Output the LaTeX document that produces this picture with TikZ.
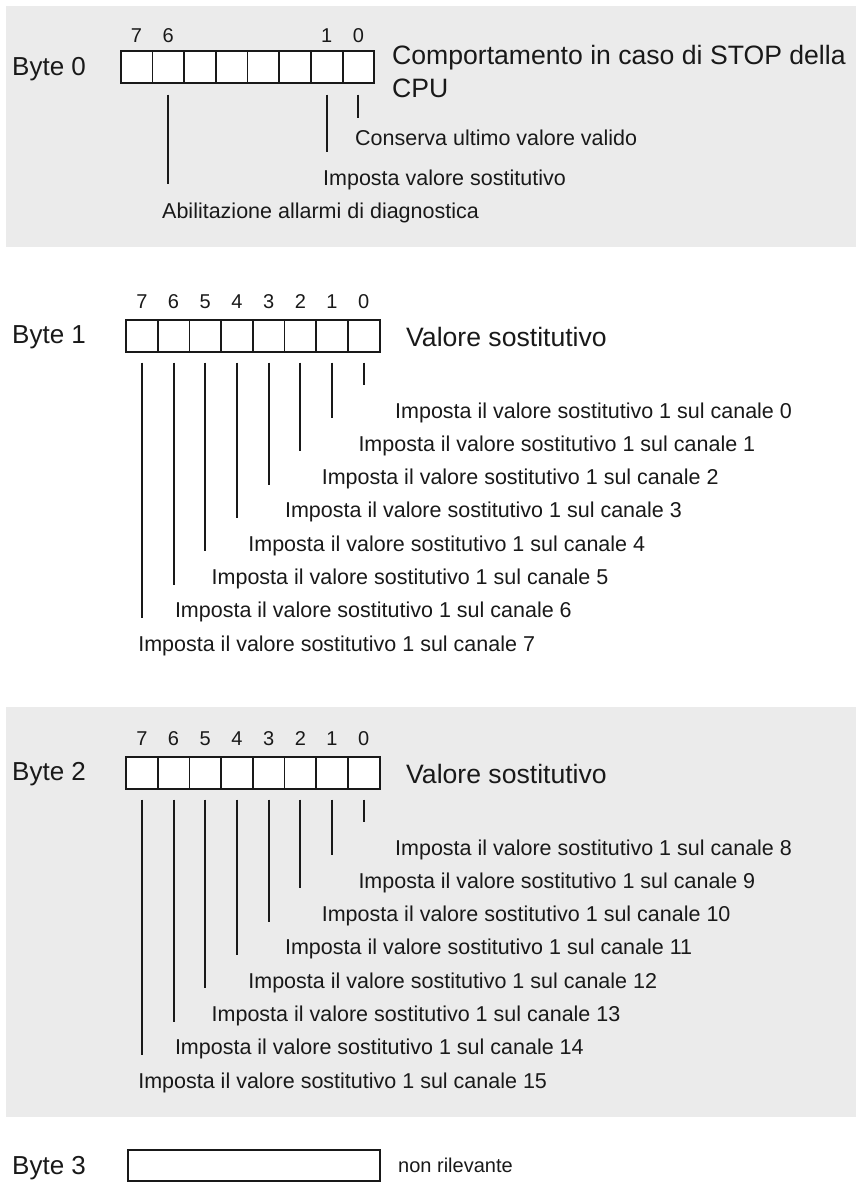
\documentclass[tikz,border=0pt]{standalone}
\usepackage{fontspec}
\setmainfont{Liberation Sans}
\definecolor{panel}{RGB}{235,235,235}
\definecolor{ink}{RGB}{25,25,25}
\begin{document}
\begin{tikzpicture}[x=1pt,y=-1pt,
  cell/.style={draw=ink, line width=1.8pt, fill=white, minimum width=31.7pt, minimum height=31.7pt, inner sep=0pt, outer sep=0pt, anchor=north west},
  lbl/.style={font=\fontsize{26}{30}\selectfont, text=ink, anchor=base west, inner sep=0pt},
  head/.style={font=\fontsize{26.6}{30}\selectfont, text=ink, anchor=base west, inner sep=0pt},
  desc/.style={font=\fontsize{21.5}{25}\selectfont, text=ink, anchor=base west, inner sep=0pt},
  small/.style={font=\fontsize{20}{24}\selectfont, text=ink, anchor=base west, inner sep=0pt},
  bitnum/.style={font=\fontsize{20}{24}\selectfont, text=ink, anchor=base, inner sep=0pt},
  tick/.style={draw=ink, line width=2pt}]
\useasboundingbox (0,0) rectangle (860,1195);
\fill[panel] (6,6) rectangle (856,247);
\fill[panel] (6,707) rectangle (856,1117);

% ---------------- Byte 0
\node[lbl] (lab0) at (12,75) {Byte 0};
\foreach \i in {0,...,7} \node[cell] (b0c\i) at ({120.7+31.7*(7-\i)},51) {};
\foreach \i in {7,6,1,0} \node[bitnum] (n0\i) at ({136.55+31.7*(7-\i)},42) {\i};
\node[head] (h0a) at (392,64) {Comportamento in caso di STOP della};
\node[head] (h0b) at (392,97) {CPU};
\node[desc] (d00) at (355,145) {Conserva ultimo valore valido};
\node[desc] (d01) at (323,185) {Imposta valore sostitutivo};
\node[desc] (d06) at (162,218) {Abilitazione allarmi di diagnostica};
\coordinate (t00) at ([yshift=-35pt]b0c0.south);
\coordinate (t01) at ([yshift=-69pt]b0c1.south);
\coordinate (t06) at ([yshift=-101pt]b0c6.south);
\draw[tick] ([yshift=-12pt]b0c0.south) -- (t00);
\draw[tick] ([yshift=-12pt]b0c1.south) -- (t01);
\draw[tick] ([yshift=-12pt]b0c6.south) -- (t06);

% ---------------- Byte 1
\node[lbl] (lab1) at (12,343) {Byte 1};
\node[head] (h1) at (406,346) {Valore sostitutivo};
\foreach \i in {0,...,7} {
  \node[cell] (b1c\i) at ({126+31.7*(7-\i)},320) {};
  \node[bitnum] (n1\i) at ({141.85+31.7*(7-\i)},308) {\i};
  \node[desc] (d1\i) at ({395-36.7*\i},{418+33.3*\i}) {Imposta il valore sostitutivo 1 sul canale \i};
  \coordinate (t1\i) at ([yshift={-(33+33.3*\i)}]b1c\i.south);
  \draw[tick] ([yshift=-11pt]b1c\i.south) -- (t1\i);
}

% ---------------- Byte 2
\node[lbl] (lab2) at (12,780) {Byte 2};
\node[head] (h2) at (406,783) {Valore sostitutivo};
\foreach \i [evaluate=\i as \c using int(\i+8)] in {0,...,7} {
  \node[cell] (b2c\i) at ({126+31.7*(7-\i)},757) {};
  \node[bitnum] (n2\i) at ({141.85+31.7*(7-\i)},745) {\i};
  \node[desc] (d2\i) at ({395-36.7*\i},{855+33.3*\i}) {Imposta il valore sostitutivo 1 sul canale \c};
  \coordinate (t2\i) at ([yshift={-(33+33.3*\i)}]b2c\i.south);
  \draw[tick] ([yshift=-11pt]b2c\i.south) -- (t2\i);
}

% ---------------- Byte 3
\node[lbl] (lab3) at (12,1174) {Byte 3};
\node[draw=ink, line width=1.8pt, fill=white, minimum width=252pt, minimum height=31pt, inner sep=0pt, outer sep=0pt, anchor=north west] (b3) at (128,1150) {};
\node[small] (d3) at (398,1172) {non rilevante};
\end{tikzpicture}
\end{document}
